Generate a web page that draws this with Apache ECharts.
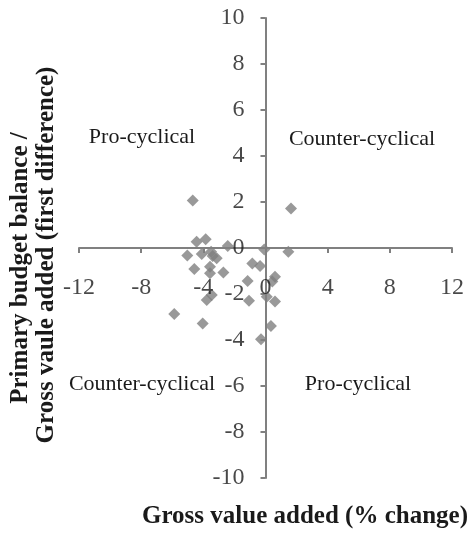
<!DOCTYPE html>
<html>
<head>
<meta charset="utf-8">
<script src="https://cdn.jsdelivr.net/npm/echarts@6/dist/echarts.min.js"></script>
<style>html,body{margin:0;padding:0;background:#fff;}#c{width:472px;height:543px;}</style>
</head>
<body>
<div id="c"></div>
<script>
var gvaChange = [-4.68, 1.64, -4.43, -3.85, -2.43, -5.03, -4.1, -3.5, -3.14, -0.08, 1.47, -4.58, -3.57, -3.57, -2.71, -0.85, -0.35, 0.61, 0.44, -1.15, -3.46, -3.78, -1.06, 0.08, 0.61, 0.35, -0.29, -5.87, -4.04, -3.4];
var balanceDiff = [2.06, 1.72, 0.27, 0.38, 0.09, -0.33, -0.26, -0.16, -0.45, -0.06, -0.16, -0.91, -0.81, -1.1, -1.06, -0.67, -0.78, -1.25, -1.46, -1.43, -2.04, -2.26, -2.29, -2.12, -2.33, -3.39, -3.97, -2.87, -3.28, -0.35];
var xTicks = [-12, -8, -4, 0, 4, 8, 12];
var yTicks = [-10, -8, -6, -4, -2, 0, 2, 4, 6, 8, 10];
var quadrantLabels = ["Pro-cyclical", "Counter-cyclical", "Counter-cyclical", "Pro-cyclical"];
var xTitle = "Gross value added (% change)";
var yTitle1 = "Primary budget balance /";
var yTitle2 = "Gross vaule added (first difference)";

var pts = gvaChange.map(function (x, i) { return [x, balanceDiff[i]]; });
var serif = "'Liberation Serif','Times New Roman',serif";
var axisCol = '#808080';
var txtCol = '#1a1a1a';
var chart = echarts.init(document.getElementById('c'));
chart.setOption({
  animation: false,
  grid: { left: 79, right: 20, top: 18, bottom: 65 },
  xAxis: {
    type: 'value', min: xTicks[0], max: xTicks[xTicks.length - 1], interval: 4,
    splitLine: { show: false },
    axisLine: { onZero: true, lineStyle: { color: axisCol, width: 2 } },
    axisTick: { show: true, inside: false, length: 5, lineStyle: { color: axisCol, width: 2 } },
    axisLabel: { show: false }
  },
  yAxis: {
    type: 'value', min: yTicks[0], max: yTicks[yTicks.length - 1], interval: 2,
    splitLine: { show: false },
    axisLine: { onZero: true, lineStyle: { color: axisCol, width: 2 } },
    axisTick: { show: true, inside: false, length: 5, lineStyle: { color: axisCol, width: 2 } },
    axisLabel: { show: false }
  },
  series: [{
    type: 'scatter', symbol: 'diamond', symbolSize: 12, z: 3,
    itemStyle: { color: '#808080' },
    data: pts
  }, {
    type: 'scatter', symbolSize: 0, silent: true, z: 4,
    data: xTicks.map(function (t) { return [t, 0]; }),
    label: { show: true, position: 'bottom', distance: 28, color: txtCol, fontFamily: serif, fontSize: 24,
      formatter: function (p) { return String(p.value[0]); } }
  }, {
    type: 'scatter', symbolSize: 0, silent: true, z: 4,
    data: yTicks.map(function (t) { return [0, t]; }),
    label: { show: true, position: 'left', distance: 21, color: txtCol, fontFamily: serif, fontSize: 24,
      formatter: function (p) { return String(p.value[1]); } }
  }],
  graphic: [
    { type: 'text', x: 142, y: 137, style: { text: quadrantLabels[0], font: '22px ' + serif, fill: txtCol, textAlign: 'center', textVerticalAlign: 'middle' } },
    { type: 'text', x: 362, y: 139, style: { text: quadrantLabels[1], font: '22px ' + serif, fill: txtCol, textAlign: 'center', textVerticalAlign: 'middle' } },
    { type: 'text', x: 142, y: 384, style: { text: quadrantLabels[2], font: '22px ' + serif, fill: txtCol, textAlign: 'center', textVerticalAlign: 'middle' } },
    { type: 'text', x: 358, y: 384, style: { text: quadrantLabels[3], font: '22px ' + serif, fill: txtCol, textAlign: 'center', textVerticalAlign: 'middle' } },
    { type: 'text', x: 305, y: 517, style: { text: xTitle, font: 'bold 25px ' + serif, fill: txtCol, textAlign: 'center', textVerticalAlign: 'middle' } },
    { type: 'text', x: 21, y: 268, rotation: Math.PI / 2, style: { text: yTitle1, font: 'bold 25px ' + serif, fill: txtCol, textAlign: 'center', textVerticalAlign: 'middle' } },
    { type: 'text', x: 47, y: 255, rotation: Math.PI / 2, style: { text: yTitle2, font: 'bold 25px ' + serif, fill: txtCol, textAlign: 'center', textVerticalAlign: 'middle' } }
  ]
});
</script>
</body>
</html>
